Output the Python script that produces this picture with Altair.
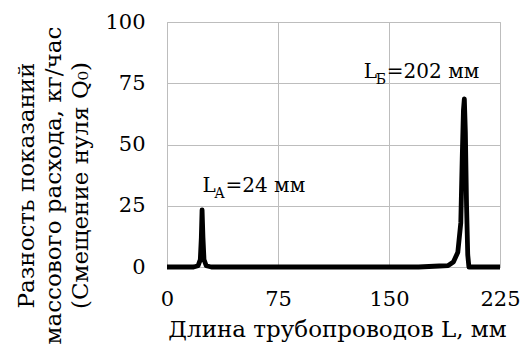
import altair as alt
import pandas as pd

# Curve
length_mm = [0, 18, 21, 22.5, 23.2, 23.7, 24.3, 25, 26.5, 30, 170, 184, 190, 193.5,
             196.5, 198.5, 199.5, 200.3, 200.9, 201.6, 202.4, 203.2, 204, 210, 225]
offset = [0, 0, 0.5, 3, 12, 23.3, 12, 3, 0.5, 0, 0, 0.4, 0.6, 2,
          6, 18, 45, 64, 68.6, 55, 25, 5, 0, 0, 0]

x_ticks = [0, 75, 150, 225]
y_ticks = [0, 25, 50, 75, 100]

ann_main = ["L", "L"]
ann_sub = ["A", "Б"]
ann_rest = ["=24 мм", "=202 мм"]
ann_x = [24, 133]
ann_y = [30.5, 77.2]

FONT = "DejaVu Serif"

df = pd.DataFrame({"L": length_mm, "Q": offset})
ann = pd.DataFrame({"x": ann_x, "y": ann_y, "main": ann_main, "sub": ann_sub, "rest": ann_rest})

xs = alt.Scale(domain=[0, 225], nice=False)
ys = alt.Scale(domain=[0, 100], nice=False)

line = alt.Chart(df).mark_line(color="black", strokeWidth=4.8, strokeJoin="round").encode(
    x=alt.X("L:Q", scale=xs, axis=alt.Axis(
        values=x_ticks, title="Длина трубопроводов L, мм", grid=True, gridColor="#bdbdbd",
        domain=False, ticks=False, labelFont=FONT, labelFontSize=21, labelColor="black",
        labelPadding=21, titleFont=FONT, titleFontSize=23, titleFontWeight="normal",
        titleColor="black", titleX=170, titleY=69, titleBaseline="alphabetic", labelFlush=False)),
    y=alt.Y("Q:Q", scale=ys, axis=alt.Axis(
        values=y_ticks, title=["Разность показаний", "массового расхода, кг/час", "(Смещение нуля Q₀)"],
        grid=True, gridColor="#bdbdbd", domain=False, ticks=False, labelFont=FONT,
        labelFontSize=21, labelColor="black", labelPadding=22, titleFont=FONT,
        titleFontSize=23, titleFontWeight="normal", titleColor="black",
        titleLineHeight=27, titleX=-134, titleY=163, titleAngle=-90, titleAlign="center",
        titleBaseline="alphabetic", labelFlush=False)),
)

base = alt.Chart(ann)
t_main = base.mark_text(font=FONT, fontSize=20, align="left", baseline="alphabetic", color="black").encode(
    x=alt.X("x:Q", scale=xs), y=alt.Y("y:Q", scale=ys), text="main:N")
t_sub = base.mark_text(font=FONT, fontSize=14, align="left", baseline="alphabetic", color="black", dx=12, dy=6).encode(
    x=alt.X("x:Q", scale=xs), y=alt.Y("y:Q", scale=ys), text="sub:N")
t_rest = base.mark_text(font=FONT, fontSize=20, align="left", baseline="alphabetic", color="black", dx=23).encode(
    x=alt.X("x:Q", scale=xs), y=alt.Y("y:Q", scale=ys), text="rest:N")

chart = alt.layer(line, t_main, t_sub, t_rest).properties(
    width=333, height=245,
    autosize=alt.AutoSizeParams(type="none"),
    padding={"left": 167, "top": 22, "right": 21, "bottom": 82},
    background="white",
).configure_view(stroke="#bdbdbd")

chart.save("out.html", embed_options={"renderer": "svg", "actions": False})
